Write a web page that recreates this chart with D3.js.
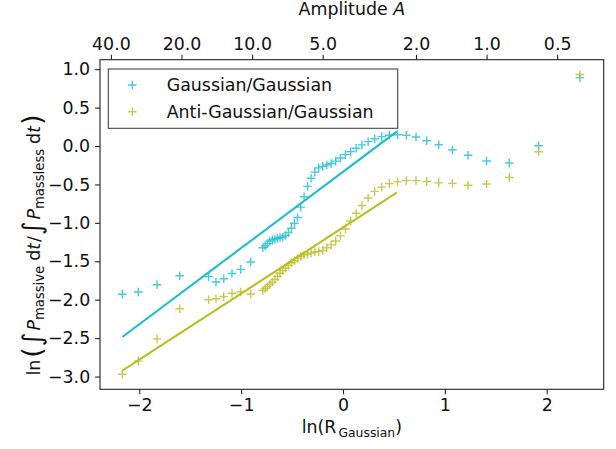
<!DOCTYPE html>
<html>
<head>
<meta charset="utf-8">
<script src="https://cdn.jsdelivr.net/npm/d3@7"></script>
<style>
  html, body { margin: 0; padding: 0; background: #fff; }
  svg { display: block; font-family: "DejaVu Sans", sans-serif; }
</style>
</head>
<body>
<svg id="chart" width="616" height="449"></svg>
<script>
// ---- data ----
const lnR = [-2.167, -2.01, -1.826, -1.603, -1.319, -1.247, -1.171, -1.09, -1.004, -0.906,
  -0.787, -0.765, -0.742, -0.718, -0.694, -0.669, -0.644, -0.618, -0.592, -0.564,
  -0.536, -0.507, -0.477, -0.446, -0.415, -0.382, -0.348, -0.313, -0.276, -0.239,
  -0.199, -0.159, -0.116, -0.072, -0.025, 0.024, 0.075, 0.129, 0.186, 0.247,
  0.311, 0.380, 0.455, 0.535, 0.622, 0.717, 0.822, 0.940, 1.074, 1.228,
  1.410, 1.633, 1.921, 2.326];
const gaussGauss = [-1.93, -1.90, -1.805, -1.688, -1.70, -1.77, -1.727, -1.66, -1.605, -1.51,
  -1.325, -1.30, -1.27, -1.238, -1.221, -1.212, -1.202, -1.19, -1.185, -1.163,
  -1.13, -1.07, -1.005, -0.93, -0.795, -0.66, -0.525, -0.42, -0.34, -0.285,
  -0.265, -0.247, -0.227, -0.197, -0.156, -0.112, -0.073, -0.03, 0.015, 0.057,
  0.095, 0.122, 0.14, 0.147, 0.139, 0.117, 0.069, 0.017, -0.048, -0.121,
  -0.195, -0.221, 0.004, 0.89];
const antiGauss = [-2.97, -2.80, -2.51, -2.117, -2.00, -1.987, -1.96, -1.917, -1.90, -1.926,
  -1.88, -1.855, -1.83, -1.80, -1.772, -1.737, -1.70, -1.655, -1.62, -1.587,
  -1.553, -1.52, -1.493, -1.462, -1.436, -1.418, -1.407, -1.393, -1.378, -1.375,
  -1.36, -1.325, -1.287, -1.236, -1.17, -1.08, -0.975, -0.876, -0.775, -0.677,
  -0.59, -0.535, -0.49, -0.467, -0.45, -0.45, -0.464, -0.48, -0.486, -0.51,
  -0.495, -0.41, -0.074, 0.93];
const fitX = [-2.167, 0.527];
const gaussFit = [-2.485, 0.186];
const antiFit = [-2.924, -0.607];

const seriesNames = ["Gaussian/Gaussian", "Anti-Gaussian/Gaussian"];
const seriesColors = ["#17becf", "#bcbd22"];

const xTicks = [-2, -1, 0, 1, 2];
const yTicks = [-3.0, -2.5, -2.0, -1.5, -1.0, -0.5, 0.0, 0.5, 1.0];
const ampTicks = [40, 20, 10, 5, 2, 1, 0.5];
const ampOffset = 1.41; // ln R = ampOffset - ln A

// ---- layout ----
const L = 100, R = 603.7, T = 59.7, B = 389.3;
const FS = 17.4;
const svg = d3.select("#chart");

const x = d3.scaleLinear().domain([-2.386, 2.56]).range([L, R]);
const y = d3.scaleLinear().domain([-3.166, 1.123]).range([B, T]);
const xTop = d3.scaleLog()
  .domain([Math.exp(ampOffset - x.domain()[0]), Math.exp(ampOffset - x.domain()[1])])
  .range([L, R]);

const minus = s => s.replace("-", "\u2212");

// axes
const gx = svg.append("g").attr("transform", `translate(0,${B})`)
  .call(d3.axisBottom(x).tickValues(xTicks).tickSize(4.9).tickPadding(4.5)
    .tickFormat(d => minus(d3.format("d")(d))));
const gy = svg.append("g").attr("transform", `translate(${L},0)`)
  .call(d3.axisLeft(y).tickValues(yTicks).tickSize(4.9).tickPadding(4.9)
    .tickFormat(d => minus(d3.format(".1f")(d))));
const gt = svg.append("g").attr("transform", `translate(0,${T})`)
  .call(d3.axisTop(xTop).tickValues(ampTicks).tickSize(4.9).tickPadding(4.9)
    .tickFormat(d3.format(".1f")));

[gx, gy, gt].forEach(g => {
  g.select(".domain").remove();
  g.selectAll(".tick line").attr("stroke", "#222").attr("stroke-width", 1.1);
  g.selectAll(".tick text").attr("font-size", FS).attr("fill", "#111")
    .attr("font-family", "DejaVu Sans");
});

// frame
svg.append("rect").attr("x", L).attr("y", T).attr("width", R - L).attr("height", B - T)
  .attr("fill", "none").attr("stroke", "#222").attr("stroke-width", 1.1);

// fit lines
const line = d3.line().x(d => x(d[0])).y(d => y(d[1]));
[gaussFit, antiFit].forEach((fy, i) => {
  svg.append("path").datum(fitX.map((v, j) => [v, fy[j]]))
    .attr("d", line).attr("fill", "none")
    .attr("stroke", seriesColors[i]).attr("stroke-width", 2.1);
});

// plus markers
const H = 4.3;
function plus(g, cx, cy, color) {
  g.append("path")
    .attr("d", `M${cx - H},${cy}H${cx + H}M${cx},${cy - H}V${cy + H}`)
    .attr("stroke", color).attr("stroke-width", 1.4).attr("stroke-opacity", 0.8)
    .attr("fill", "none");
}
const gm = svg.append("g");
[gaussGauss, antiGauss].forEach((vals, i) => {
  vals.forEach((v, j) => plus(gm, x(lnR[j]), y(v), seriesColors[i]));
});

// legend
const lg = svg.append("g");
lg.append("rect").attr("x", 108.3).attr("y", 69).attr("width", 289.4).attr("height", 59.3)
  .attr("fill", "#fff").attr("stroke", "#444").attr("stroke-width", 1.1);
seriesNames.forEach((n, i) => {
  const cy = 85 + i * 26.7;
  plus(lg, 132.3, cy, seriesColors[i]);
  lg.append("text").attr("x", 166.7).attr("y", cy + 6.2).attr("font-size", FS)
    .attr("fill", "#111").text(n);
});

// axis labels
const xl = svg.append("text").attr("x", (L + R) / 2).attr("y", 433)
  .attr("text-anchor", "middle").attr("font-size", FS).attr("fill", "#111");
xl.append("tspan").text("ln(R");
xl.append("tspan").attr("font-size", 12.4).attr("dy", 3.5).attr("dx", 2).text("Gaussian");
xl.append("tspan").attr("dy", -3.5).text(")");

svg.append("text").attr("x", (L + R) / 2).attr("y", 15)
  .attr("text-anchor", "middle").attr("font-size", FS).attr("fill", "#111")
  .call(t => { t.append("tspan").text("Amplitude "); t.append("tspan").attr("font-style", "italic").text("A"); });

const yl = svg.append("text")
  .attr("transform", "translate(39.5,245) rotate(-90)")
  .attr("text-anchor", "middle").attr("font-size", FS).attr("fill", "#111");
yl.append("tspan").text("ln");
yl.append("tspan").attr("font-size", 27).attr("dy", 1.5).attr("dx", 2).text("(");
yl.append("tspan").attr("font-size", 26).attr("font-style", "italic").attr("dx", 1).text("\u222B");
yl.append("tspan").attr("dy", -1.5).attr("dx", 2).attr("font-style", "italic").text("P");
yl.append("tspan").attr("font-size", 13.2).attr("dy", 4.5).text("massive");
yl.append("tspan").attr("dy", -4.5).attr("dx", 5).text("d");
yl.append("tspan").attr("font-style", "italic").text("t");
yl.append("tspan").attr("dx", 1).text("/");
yl.append("tspan").attr("font-size", 26).attr("font-style", "italic").attr("dy", 1.5).attr("dx", 1).text("\u222B");
yl.append("tspan").attr("dy", -1.5).attr("dx", 2).attr("font-style", "italic").text("P");
yl.append("tspan").attr("font-size", 13.2).attr("dy", 4.5).text("massless");
yl.append("tspan").attr("dy", -4.5).attr("dx", 5).text("d");
yl.append("tspan").attr("font-style", "italic").text("t");
yl.append("tspan").attr("font-size", 27).attr("dy", 1.5).attr("dx", 1).text(")");
</script>
</body>
</html>
